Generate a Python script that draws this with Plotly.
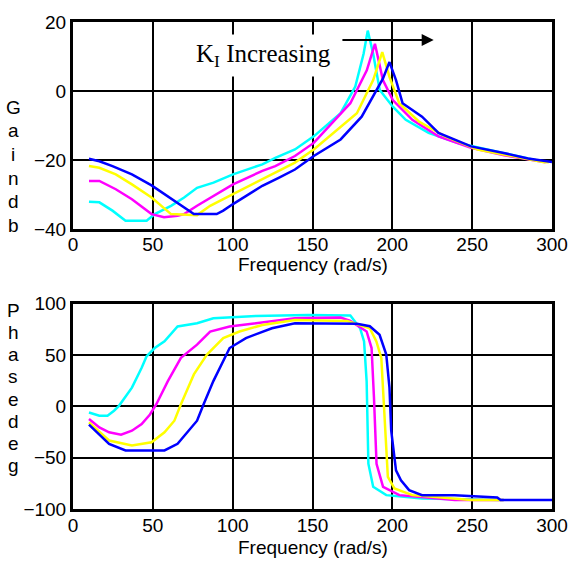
import plotly.graph_objects as go

# ---------------- data ----------------
freq_gain_cyan = [10, 16.5, 24.7, 32.9, 46.1, 51.2, 61.4, 69.6, 77.7, 88, 100.2, 118.6, 126.7, 139, 150.8,
                  167.6, 176.8, 182, 184.6, 188, 192.1, 200.3, 208.4, 222.7, 241.1, 259.4, 275, 290]
gain_cyan = [-32, -32.2, -34.6, -37.5, -37.5, -35.6, -33.2, -30.8, -28, -26.5, -24.1, -21.2, -19.3, -16.9, -13.1,
             -6.4, 1.3, 10.8, 17.5, 10.8, 0.3, -4.5, -8.3, -12.1, -15, -16.9, -18.5, -20]

freq_gain_magenta = [10, 16.5, 26.8, 36.9, 49.2, 57, 65.5, 69.6, 77.7, 88, 100.2, 118.6, 126.7, 139, 150.8,
                     173.7, 184, 189.1, 194.1, 200.3, 212.5, 228.9, 249.3, 270, 290, 296]
gain_magenta = [-26, -26, -28.4, -31.3, -35.6, -36.5, -36.1, -35.6, -33.2, -30.3, -27, -23.1, -21.7, -18.8, -15,
                -3.5, 6, 13.7, 3.2, -2.6, -8.3, -13.1, -16.4, -18.6, -20.3, -20.6]

freq_gain_yellow = [10, 16.5, 26.8, 36.9, 49.2, 61.4, 77.7, 85.9, 100.2, 118.6, 126.7, 139, 150.8, 177.8,
                    188, 193.7, 198.2, 204.3, 216.6, 233, 253.4, 275, 294.3, 298]
gain_yellow = [-21.7, -22.2, -24.1, -27, -30.8, -35.6, -35.9, -33.2, -29.8, -25.5, -23.6, -20.7, -16.9, -6.4,
               3.2, 11.3, 4.1, -3.5, -8.8, -13.1, -16.9, -18.8, -20.5, -20.6]

freq_gain_blue = [10, 16.5, 24.7, 36.9, 49.2, 57.3, 65.5, 75.7, 90, 94.1, 100.2, 110.5, 118.6, 128.8, 139,
                  150.8, 167.6, 180.8, 188, 194.1, 198.2, 202.3, 206.4, 218.6, 228.9, 249.3, 269.7, 285, 300]
gain_blue = [-19.6, -20.3, -21.7, -24.1, -27.3, -29.8, -32.2, -35.6, -35.6, -34.6, -32.7, -29.8, -27.4, -25.1, -22.7,
             -18.8, -14, -7.4, -1.6, 3.6, 8.4, 3.2, -3.5, -7.4, -12.1, -16, -17.9, -19.5, -20.5]

freq_phase_cyan = [10, 16.5, 21.6, 25.7, 28.8, 36.9, 43, 46.1, 51.2, 57.3, 65.5, 77.7, 87.9, 114.5, 147.2,
                   173.7, 179.8, 182.3, 183.9, 185, 188, 196.2, 218.6, 269.7]
phase_cyan = [-6, -9.2, -9.2, -4.3, 0.5, 18.2, 37.5, 48.8, 56.8, 63.3, 77.8, 81, 85.8, 88.1, 89,
              88.4, 76.1, 63.3, 24.6, -55.9, -78.4, -86.5, -89.7, -91.3]

freq_phase_magenta = [10, 16.5, 22.6, 30.1, 36.9, 43, 48.2, 52.2, 59.4, 67.6, 77.7, 85.9, 98.1, 114.5, 139,
                      167.6, 173.7, 183.9, 187, 188.5, 190.1, 194.2, 204.4, 239.1, 269.7]
phase_magenta = [-12.4, -20.5, -25.3, -27.6, -23.7, -17.2, -7.9, 2.1, 24.6, 47.2, 60.1, 72.9, 77.8, 81, 85.8,
                 86.5, 83.2, 72.9, 56.8, 8.5, -55.9, -78.4, -86.5, -91.3, -91.3]

freq_phase_yellow = [10, 22.6, 36.9, 49.2, 57.3, 63.5, 67.6, 75.7, 83.9, 94.1, 104.3, 118.6, 139, 171.7,
                     185.9, 190, 193.1, 195.2, 197.2, 201.3, 212.5, 249.3, 269.7]
phase_yellow = [-15.6, -33.3, -38.2, -35, -25.3, -14, 2.1, 31.1, 50.4, 66.5, 72.9, 79.3, 84.1, 83.2,
                76.1, 63.3, 47.2, -7.5, -68.8, -80, -86.5, -91.3, -91.3]

freq_phase_blue = [10, 22.6, 32.9, 57.3, 65.5, 77.7, 81.8, 87.9, 98.1, 108.3, 124.6, 139, 177.8, 185.9, 192,
                   196.2, 198.2, 199.3, 202.3, 205.4, 210.5, 218.6, 239.1, 265.7, 267.8, 300]
phase_blue = [-17.9, -36.5, -43, -43, -36.5, -14, 2.1, 24.6, 56.8, 66.5, 76.1, 81, 80.4, 78, 69.7,
              50.4, 18.2, -23.7, -62.3, -72, -81.6, -86.5, -86.5, -88.8, -91.3, -91.3]

x_ticks = [0, 50, 100, 150, 200, 250, 300]
gain_ticks = [-40, -20, 0, 20]
phase_ticks = [-100, -50, 0, 50, 100]
gain_label = list("Gaindb")
phase_label = list("Phasedeg")
x_title = "Frequency (rad/s)"
note_text = "K<sub>I</sub> Increasing"

colors = {"cyan": "#00FFFF", "magenta": "#FF00FF", "yellow": "#FFFF00", "blue": "#0000FF"}

# ---------------- figure ----------------
fig = go.Figure()
gain_series = [("cyan", freq_gain_cyan, gain_cyan), ("magenta", freq_gain_magenta, gain_magenta),
               ("yellow", freq_gain_yellow, gain_yellow), ("blue", freq_gain_blue, gain_blue)]
phase_series = [("cyan", freq_phase_cyan, phase_cyan), ("magenta", freq_phase_magenta, phase_magenta),
                ("yellow", freq_phase_yellow, phase_yellow), ("blue", freq_phase_blue, phase_blue)]
for name, xs, ys in gain_series:
    fig.add_trace(go.Scatter(x=xs, y=ys, mode="lines", line=dict(color=colors[name], width=2.5),
                             xaxis="x", yaxis="y", showlegend=False, hoverinfo="skip"))
for name, xs, ys in phase_series:
    fig.add_trace(go.Scatter(x=xs, y=ys, mode="lines", line=dict(color=colors[name], width=2.5),
                             xaxis="x2", yaxis="y2", showlegend=False, hoverinfo="skip"))

W, H = 580, 562
ML, MR, MT, MB = 73, 17, 18, 53
PH = H - MT - MB


def py(p):
    return (H - MB - p) / PH


def px(p):
    return (p - ML) / (W - ML - MR)


tick_font = dict(family="Arial, Liberation Sans", size=19, color="black")
axis_common = dict(showgrid=True, gridcolor="black", gridwidth=2, showline=True, linecolor="black",
                   linewidth=3, mirror=True, zeroline=False, ticks="", tickfont=tick_font,
                   fixedrange=True)

fig.update_layout(
    width=W, height=H,
    margin=dict(l=ML, r=MR, t=MT, b=MB),
    paper_bgcolor="white", plot_bgcolor="white",
    xaxis=dict(domain=[0, 1], range=[0, 300], tickvals=x_ticks, anchor="y", ticklabelstandoff=-4,
               **axis_common),
    yaxis=dict(domain=[py(227), 1], range=[-40, 20], tickvals=gain_ticks, anchor="x", **axis_common),
    xaxis2=dict(domain=[0, 1], range=[0, 300], tickvals=x_ticks, anchor="y2", ticklabelstandoff=-3,
                **axis_common),
    yaxis2=dict(domain=[0, py(302)], range=[-100, 100], tickvals=phase_ticks, anchor="x2", **axis_common),
)

ann = []
# axis titles
for cy in (262, 548):
    ann.append(dict(text=x_title, xref="paper", yref="paper", x=0.5, y=py(cy), xanchor="center",
                    yanchor="middle", showarrow=False, font=tick_font))
# stacked y labels
for i, ch in enumerate(gain_label):
    ann.append(dict(text=ch, xref="paper", yref="paper", x=px(12), y=py(104 + 23.8 * i), xanchor="center",
                    yanchor="middle", showarrow=False, font=tick_font))
for i, ch in enumerate(phase_label):
    ann.append(dict(text=ch, xref="paper", yref="paper", x=px(12), y=py(309 + 22.3 * i), xanchor="center",
                    yanchor="middle", showarrow=False, font=tick_font))
# note and arrow
ann.append(dict(text=note_text, xref="x", yref="y", x=119, y=10.2, showarrow=False, bgcolor="white",
                borderpad=5, font=dict(family="Times New Roman, Liberation Serif", size=25, color="black")))
ann.append(dict(text="", xref="x", yref="y", x=225.9, y=14.8, axref="x", ayref="y", ax=167.8, ay=14.8,
                showarrow=True, arrowhead=2, arrowsize=1.2, arrowwidth=2, arrowcolor="black"))
fig.update_layout(annotations=ann)

fig.write_html("out.html")
